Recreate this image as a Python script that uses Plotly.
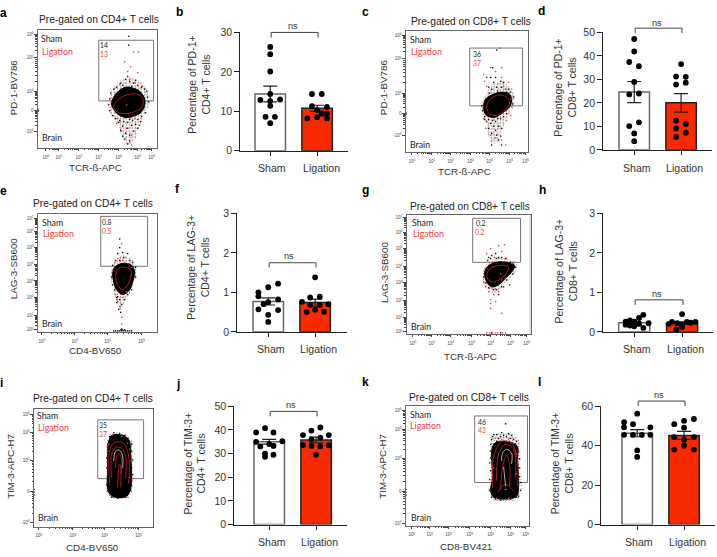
import numpy as np
import plotly.graph_objects as go

W, H = 717, 557
SANS = "Liberation Sans"
FLOW = "Lato"
RED_BAR = "#f92a00"
RED_TXT = "#ee3a48"

CATEGORIES = ["Sham", "Ligation"]

# ---------- bar panels: values, horizontal jitter, means, SEM ----------
B_SHAM = [26.3, 24.5, 20.1, 14.4, 13.0, 12.9, 12.6, 11.4, 8.6, 8.6, 7.0]
B_SHAM_J = [0, 0, 0, 0, .21, -.21, 0, 0, .1, -.1, 0]
B_LIG = [14.4, 14.4, 11.3, 11.1, 10.3, 9.4, 9.4, 8.2, 8.5, 8.2]
B_LIG_J = [-.11, .1, -.11, .21, 0, .1, .21, -.21, 0, .21]
B_MEAN = [14.4, 10.8]
B_SEM = [2.0, 0.75]

D_SHAM = [47.2, 41.9, 37.4, 35.6, 28.9, 23.6, 24.0, 11.7, 10.1, 7.0, 3.7]
D_SHAM_J = [0, 0, -.106, .1, 0, -.106, .1, .1, -.106, 0, 0]
D_LIG = [36.5, 31.2, 31.1, 27.8, 28.6, 12.4, 11.0, 9.1, 7.3, 5.5]
D_LIG_J = [0, -.106, .1, -.106, .1, -.106, .1, -.106, .1, -.106]
D_MEAN = [24.6, 20.0]
D_SEM = [4.5, 3.9]

F_SHAM = [1.22, 1.13, 1.0, .9, .82, .75, .7, .57, .55, .43, .25]
F_SHAM_J = [.21, 0, -.21, -.21, .21, 0, -.1, -.21, .21, 0, 0]
F_LIG = [1.38, .87, .89, .76, .68, .68, .7, .5, .56, .51]
F_LIG_J = [0, -.106, .1, -.28, -.106, .1, .28, -.18, 0, .19]
F_MEAN = [.77, .74]
F_SEM = [.09, .09]

H_SHAM = [.43, .35, .29, .26, .26, .22, .2, .16, .18, .1, .14]
H_SHAM_J = [.19, .1, -.09, -.18, 0, .3, .1, -.09, -.18, .19, 0]
H_LIG = [.45, .25, .22, .25, .25, .18, .23, .2, .06, .12]
H_LIG_J = [0, -.21, -.1, .1, .28, 0, .18, -.28, -.12, 0]
H_MEAN = [.23, .22]
H_SEM = [.03, .03]

J_SHAM = [40.7, 38.9, 38.9, 34.9, 35.2, 34.0, 33.0, 33.2, 30.0, 29.5, 28.6]
J_SHAM_J = [-.09, -.28, .09, -.28, .28, 0, -.19, .09, -.09, .09, -.09]
J_LIG = [41.0, 39.7, 37.8, 36.0, 36.7, 37.8, 33.2, 33.0, 33.6, 33.5, 29.5]
J_LIG_J = [.09, -.1, -.28, -.1, .09, .27, -.1, .09, -.28, .27, 0]
J_MEAN = [35.0, 35.7]
J_SEM = [1.0, 1.2]

L_SHAM = [56.2, 51.9, 50.9, 49.3, 49.3, 45.5, 45.5, 45.5, 45.5, 37.6, 34.3]
L_SHAM_J = [0, -.28, -.09, -.28, .28, -.28, -.09, .1, .28, 0, 0]
L_LIG = [53.5, 52.6, 50.9, 49.1, 44.3, 43.0, 44.3, 38.0, 40.0, 38.0]
L_LIG_J = [.21, 0, -.21, 0, -.21, 0, .21, -.21, 0, .21]
L_MEAN = [46.3, 45.2]
L_SEM = [1.8, 2.0]

# ---------- flow panels (display channels): population outlines and events ----------
A_HALO = [(71, 44), (74, 58), (82, 68), (92, 72), (102, 68), (110, 58), (112, 46), (107, 34), (102, 22), (97, 8), (90, 3), (85, 10), (80, 24), (73, 34), (71, 44)]
A_BLOB = [(74, 44), (76, 52), (81, 58), (88, 62), (96, 61), (103, 57), (107, 50), (107, 43), (104, 37), (98, 33), (90, 31), (82, 33), (77, 38), (74, 44)]
A_RING = [(76, 42), (80, 49), (89, 54), (99, 55), (105, 51), (105, 43), (97, 37), (87, 35), (79, 37), (76, 42)]
A_BLACK = [(83, 66), (88, 70), (92, 68), (96, 66), (100, 64), (104, 62), (79, 62), (85, 64), (90, 73), (94, 63), (98, 69), (107, 60), (109, 58), (110, 52), (72, 50), (71, 44), (72, 38), (75, 33), (78, 30), (82, 28), (86, 27), (90, 26), (95, 28), (100, 29), (104, 32), (108, 36), (85, 22), (90, 20), (94, 23), (98, 24), (83, 18), (88, 15), (92, 13), (96, 17), (100, 20), (87, 9), (92, 7), (90, 4), (85, 12), (91, 114), (91, 105), (0, 38), (0, 37), (0, 39), (111, 47), (76, 60), (73, 56), (81, 26), (103, 27), (92, 29), (87, 31)]
A_RED = [(87, 88), (90, 78), (93, 83), (100, 77), (101, 98), (96, 98), (92, 70), (97, 67), (105, 63), (82, 65), (80, 30), (85, 23), (89, 20), (94, 13), (94, 3), (79, 25), (97, 30), (84, 17), (102, 23), (89, 44)]

C_HALO = [(76, 46), (80, 58), (86, 68), (96, 72), (104, 66), (109, 56), (108, 46), (101, 34), (96, 20), (90, 8), (84, 14), (80, 30), (76, 46)]
C_BLOB = [(78, 46), (80, 54), (86, 58), (96, 61), (104, 59), (106, 52), (104, 46), (96, 39), (88, 35), (80, 38), (78, 46)]
C_RING = [(81, 46), (85, 54), (93, 58), (101, 56), (104, 49), (98, 41), (90, 37), (84, 39), (81, 46)]
C_BLACK = [(91, 104), (81, 76), (85, 76), (90, 76), (95, 72), (98, 71), (88, 71), (83, 66), (86, 64), (91, 66), (96, 66), (100, 64), (103, 64), (87, 86), (105, 61), (108, 56), (107, 49), (76, 47), (77, 42), (79, 36), (81, 31), (85, 29), (90, 31), (95, 34), (98, 36), (101, 39), (83, 24), (88, 26), (93, 26), (96, 24), (86, 19), (91, 17), (95, 16), (90, 22), (93, 12), (86, 7), (96, 7), (0, 38), (0, 39), (0, 40), (84, 60), (92, 62), (101, 61), (83, 33), (87, 32), (92, 34), (79, 33)]
C_RED = [(94, 106), (85, 86), (90, 82), (96, 86), (78, 79), (79, 72), (96, 76), (81, 67), (98, 67), (103, 71), (106, 64), (105, 54), (106, 46), (78, 34), (80, 24), (85, 17), (90, 14), (96, 12), (86, 11), (100, 7), (101, 32), (105, 37)]

E_HALO = [(73, 58), (76, 70), (84, 78), (92, 76), (98, 68), (98, 56), (94, 44), (88, 34), (83, 22), (79, 30), (75, 44), (73, 58)]
E_BLOB = [(75, 60), (77, 66), (85, 70), (94, 68), (97, 61), (95, 51), (92, 43), (85, 38), (79, 43), (76, 51), (75, 60)]
E_RING = [(78, 58), (81, 65), (87, 66), (93, 63), (93, 55), (90, 48), (85, 43), (80, 48), (78, 58)]
E_BLACK = [(82, 95), (82, 86), (85, 81), (80, 80), (90, 80), (86, 76), (78, 73), (82, 73), (92, 73), (95, 71), (75, 68), (98, 66), (98, 56), (74, 56), (75, 48), (77, 43), (94, 43), (80, 36), (90, 38), (82, 33), (87, 33), (79, 30), (84, 28), (81, 23), (83, 20), (79, 35), (76, 1), (78, 1), (80, 1), (82, 1), (84, 1), (85, 2), (86, 1), (88, 1), (90, 1), (92, 1), (94, 1), (83, 2), (87, 2), (84, 3)]
E_RED = [(84, 90), (77, 71), (85, 73), (80, 75), (94, 66), (75, 63), (78, 38), (92, 40), (80, 31), (82, 26), (85, 35), (84, 15), (84, 8), (79, 33), (89, 41)]

G_HALO = [(76, 60), (79, 70), (88, 77), (100, 77), (110, 72), (107, 60), (98, 52), (92, 44), (84, 42), (78, 50), (76, 60)]
G_BLOB = [(78, 62), (80, 68), (89, 73), (100, 73), (108, 70), (105, 63), (99, 57), (92, 50), (85, 48), (80, 53), (78, 62)]
G_RING = [(80, 60), (84, 67), (94, 70), (102, 68), (100, 62), (92, 55), (84, 53), (80, 60)]
G_BLACK = [(82, 78), (85, 80), (89, 82), (92, 78), (95, 78), (99, 77), (90, 77), (84, 77), (104, 73), (109, 68), (106, 61), (100, 55), (95, 48), (90, 45), (77, 58), (79, 52), (82, 47), (87, 45), (92, 40), (97, 48), (103, 50), (81, 75), (85, 1), (94, 1)]
G_RED = [(98, 91), (92, 90), (84, 87), (95, 84), (80, 82), (88, 78), (100, 77), (105, 72), (77, 53), (79, 48), (82, 43), (87, 40), (85, 47), (84, 35), (84, 31), (84, 26), (89, 33), (95, 21), (95, 55), (92, 43), (89, 46), (80, 1), (83, 1), (86, 1), (89, 1), (91, 1), (96, 1), (99, 1), (94, 61)]

I_HALO = [(73, 85), (77, 95), (88, 96), (97, 90), (99, 76), (99, 40), (95, 29), (80, 28), (73, 35), (73, 60), (73, 85)]
I_BLOB = [(75, 87), (78, 93), (86, 94), (95, 89), (97, 74), (97, 39), (93, 31), (81, 30), (75, 35), (74, 60), (75, 87)]
I_ARCH_R1 = [(78, 50), (78, 74), (82, 81), (88, 80), (92, 72), (92, 49)]
I_ARCH_W1 = [(80, 67), (82, 77), (86, 78), (89, 72), (89, 60)]
I_ARCH_R2 = [(82, 60), (83, 72), (86, 74), (88, 69), (87, 54)]
I_ARCH_R3 = [(76, 42), (76, 78), (81, 86), (90, 85), (95, 72), (95, 44)]
I_ARCH_R4 = [(84, 40), (85, 60), (86, 64), (87, 60), (87, 40)]
I_BLACK = [(76, 92), (81, 94), (86, 95), (89, 92), (94, 90), (98, 84), (98, 77), (74, 84), (73, 70), (74, 50), (98, 60), (98, 47), (97, 37), (74, 37), (78, 30), (84, 29), (91, 30), (94, 34), (0, 32), (0, 35), (0, 38), (73, 60), (99, 68), (99, 53), (73, 43), (98, 42), (80, 96), (91, 93)]
I_RED = [(94, 85), (96, 79), (75, 84), (79, 94), (88, 92), (97, 67), (74, 77), (96, 50), (76, 32), (93, 30)]

K_HALO = [(85, 78), (87, 92), (100, 95), (113, 88), (115, 60), (116, 38), (112, 27), (100, 25), (86, 27), (83, 36), (85, 50), (85, 78)]
K_BLOB = [(86, 76), (89, 84), (100, 86), (111, 82), (112, 66), (113, 39), (111, 30), (100, 27), (88, 29), (85, 36), (87, 49), (86, 76)]
K_ARCH_R1 = [(91, 46), (93, 73), (100, 83), (108, 78), (110, 49)]
K_ARCH_W1 = [(96, 66), (97, 74), (101, 78), (106, 74), (106, 63)]
K_ARCH_R2 = [(92, 35), (100, 42), (108, 35)]
K_ARCH_R3 = [(98, 60), (100, 40)]
K_ARCH_R4 = [(87, 38), (88, 70), (96, 86), (106, 84), (112, 64), (112, 40)]
K_ARCH_R5 = [(95, 36), (97, 60), (101, 72), (104, 62), (104, 40)]
K_SPOT = [(99, 37), (101, 37)]
K_BLACK = [(100, 104), (88, 93), (91, 93), (95, 91), (98, 92), (101, 91), (105, 89), (108, 88), (111, 86), (86, 88), (85, 83), (88, 83), (91, 86), (110, 83), (113, 76), (114, 59), (115, 44), (115, 36), (111, 29), (105, 27), (95, 26), (86, 29), (84, 36), (85, 56), (85, 69), (85, 76), (0, 31), (0, 34), (0, 37), (93, 89), (103, 94), (96, 95), (87, 91), (106, 92), (84, 64), (114, 68), (84, 47), (114, 50), (113, 30), (90, 27)]
K_RED = [(96, 88), (103, 88), (90, 89), (108, 84), (86, 79), (111, 73), (111, 53), (91, 28), (103, 28), (86, 66), (88, 59)]

# ---------- labels ----------
TITLE_CD4 = "Pre-gated on CD4+ T cells"
TITLE_CD8 = "Pre-gated on CD8+ T cells"
LOG_0_6 = ["10<sup>%d</sup>" % k for k in range(0, 7)]
LOG_2_5 = ["10<sup>%d</sup>" % k for k in range(2, 6)]
BIEX_Y = ["10<sup>6</sup>", "10<sup>5</sup>", "10<sup>4</sup>", "0", "-10<sup>4</sup>"]
LOG_7_0 = ["10<sup>%d</sup>" % k for k in range(7, -1, -1)]

FLOW_PANELS = [
    dict(frame=(38, 157, 25, 145), gate=(61, 116, 48, 110), halo=A_HALO, blob=A_BLOB, lines=[("r", A_RING)], black=A_BLACK, red=A_RED,
         xt=[8, 21, 41, 61, 81, 100, 114], xl=LOG_0_6, yt=[116, 92, 58, 38, 17], yl=BIEX_Y,
         title=(TITLE_CD4, 99, 14), xlab=("TCR-ß-APC", 96, 165), ylab=("PD-1-BV786", 13, 83),
         sham=(52, 33), lig=(58, 46), brain=(52, 134), n1=("14", 104, 40), n2=("13", 104, 49)),
    dict(frame=(407, 529, 26, 149), gate=(64, 117, 47, 106), halo=C_HALO, blob=C_BLOB, lines=[("r", C_RING)], black=C_BLACK, red=C_RED,
         xt=[6, 26, 45, 65, 84, 104, 120], xl=LOG_0_6, yt=[119, 95, 60, 39, 17], yl=BIEX_Y,
         title=(TITLE_CD8, 472, 16), xlab=("TCR-ß-APC", 466, 169), ylab=("PD-1-BV786", 384, 83),
         sham=(422, 34), lig=(428, 46), brain=(421, 142), n1=("36", 478, 49), n2=("37", 478, 58)),
    dict(frame=(38, 157, 213, 333), gate=(63, 110, 67, 118), halo=E_HALO, blob=E_BLOB, lines=[("r", E_RING)], black=E_BLACK, red=E_RED,
         xt=[4, 37, 70, 104], xl=LOG_2_5, yt=[116, 103, 86, 69, 52, 35, 17, 2], yl=LOG_7_0,
         title=(TITLE_CD4, 93, 202), xlab=("CD4-BV650", 96, 352), ylab=("LAG-3-SB600", 13, 268),
         sham=(53, 221), lig=(59, 233), brain=(52, 325), n1=("0.8", 107, 221), n2=("0.5", 107, 230)),
    dict(frame=(408, 532, 214, 335), gate=(66, 114, 73, 118), halo=G_HALO, blob=G_BLOB, lines=[("r", G_RING)], black=G_BLACK, red=G_RED,
         xt=[6, 25, 44, 65, 84, 104, 120], xl=LOG_0_6, yt=[119, 104, 87, 69, 52, 34, 17, 2], yl=LOG_7_0,
         title=(TITLE_CD8, 471, 205), xlab=("TCR-ß-APC", 472, 358), ylab=("LAG-3-SB600", 385, 272),
         sham=(424, 221), lig=(430, 233), brain=(422, 328), n1=("0.2", 482, 222), n2=("0.2", 481, 231)),
    dict(frame=(34, 153, 412, 532), gate=(64, 110, 49, 109), halo=I_HALO, blob=I_BLOB,
         lines=[("r", I_ARCH_R3), ("r", I_ARCH_R1), ("w", I_ARCH_W1), ("r", I_ARCH_R2), ("r", I_ARCH_R4)], black=I_BLACK, red=I_RED,
         xt=[5, 39, 71, 105], xl=LOG_2_5, yt=[115, 96, 68, 36, 4], yl=BIEX_Y,
         title=(TITLE_CD4, 93, 401), xlab=("CD4-BV650", 93, 553), ylab=("TIM-3-APC-H7", 11, 470),
         sham=(48, 419), lig=(54, 431), brain=(48, 523), n1=("35", 103, 428), n2=("37", 103, 437)),
    dict(frame=(407, 530, 409, 531), gate=(69, 122, 44, 112), halo=K_HALO, blob=K_BLOB,
         lines=[("r", K_ARCH_R4), ("r", K_ARCH_R1), ("w", K_ARCH_W1), ("r", K_ARCH_R5), ("r", K_ARCH_R2), ("w", K_ARCH_R3), ("w", K_SPOT)],
         black=K_BLACK, red=K_RED,
         xt=[6, 24, 43, 64, 85, 105, 120], xl=LOG_0_6, yt=[118, 98, 69, 35, 2], yl=BIEX_Y,
         title=(TITLE_CD8, 470, 400), xlab=("CD8-BV421", 467, 552), ylab=("TIM-3-APC-H7", 384, 470),
         sham=(422, 417), lig=(427, 429), brain=(422, 523), n1=("46", 483, 425), n2=("43", 483, 433)),
]

BAR_PANELS = [
    dict(box=(241, 349, 27, 148), ticks=(271, 318), ymax=30, yt=[0, 10, 20, 30], sham=B_SHAM, sj=B_SHAM_J, lig=B_LIG, lj=B_LIG_J, mean=B_MEAN, sem=B_SEM,
         br=(28.7, 30), ns=(294, 20), lab=("Percentage of PD-1+<br>CD4+ T cells", 200, 80), xl=(273, 322, 166)),
    dict(box=(605, 714, 27, 147), ticks=(636, 683), ymax=50, yt=[0, 10, 20, 30, 40, 50], sham=D_SHAM, sj=D_SHAM_J, lig=D_LIG, lj=D_LIG_J, mean=D_MEAN, sem=D_SEM,
         br=(49.7, 51.8), ns=(659, 17), lab=("Percentage of PD-1+<br>CD8+ T cells", 567, 83), xl=(639, 686, 166)),
    dict(box=(238, 348, 212, 333), ticks=(269, 316), ymax=3, yt=[0, 1, 2, 3], sham=F_SHAM, sj=F_SHAM_J, lig=F_LIG, lj=F_LIG_J, mean=F_MEAN, sem=F_SEM,
         br=(1.63, 1.75), ns=(290, 256), lab=("Percentage of LAG-3+<br>CD4+ T cells", 199, 267), xl=(272, 319, 351)),
    dict(box=(605, 715, 212, 333), ticks=(636, 684), ymax=3, yt=[0, 1, 2, 3], sham=H_SHAM, sj=H_SHAM_J, lig=H_LIG, lj=H_LIG_J, mean=H_MEAN, sem=H_SEM,
         br=(.68, .81), ns=(659, 294), lab=("Percentage of LAG-3+<br>CD8+ T cells", 568, 271), xl=(639, 687, 351)),
    dict(box=(235, 348, 409, 530), ticks=(270, 317), ymax=50, yt=[0, 10, 20, 30, 40, 50], sham=J_SHAM, sj=J_SHAM_J, lig=J_LIG, lj=J_LIG_J, mean=J_MEAN, sem=J_SEM,
         br=(45.7, 47.8), ns=(292, 408), lab=("Percentage of TIM-3+<br>CD4+ T cells", 195, 467), xl=(273, 320, 548)),
    dict(box=(603, 717, 409, 530), ticks=(639, 686), ymax=60, yt=[0, 20, 40, 60], sham=L_SHAM, sj=L_SHAM_J, lig=L_LIG, lj=L_LIG_J, mean=L_MEAN, sem=L_SEM,
         br=(60, 62.6), ns=(661, 398), lab=("Percentage of TIM-3+<br>CD8+ T cells", 564, 467), xl=(641, 689, 548)),
]

LETTERS = [("a", 4, 7), ("b", 180, 6), ("c", 367, 6), ("d", 543, 5), ("e", 4, 189), ("f", 178, 187),
           ("g", 367, 188), ("h", 544, 188), ("i", 2, 385), ("j", 178, 386), ("k", 367, 384), ("l", 541, 384)]

fig = go.Figure()
annos, shapes, layout_axes = [], [], {}


def text(s, x, y, size, color="#222222", family=SANS, **kw):
    annos.append(dict(text=s, x=x / W, y=1 - y / H, xref="paper", yref="paper", showarrow=False,
                      xanchor=kw.pop("xanchor", "center"), yanchor="middle",
                      font=dict(size=size, color=color, family=family), **kw))


def xs(pts):
    return [p[0] for p in pts]


def ys(pts):
    return [p[1] for p in pts]


def minors(major):
    m = sorted(major)
    out = []
    for a, b in zip(m[:-1], m[1:]):
        out += list(a + (b - a) * np.log10(np.arange(2, 10)))
    return out


idx = 0
for p in FLOW_PANELS:
    idx += 1
    xa, ya = f"x{idx}", f"y{idx}"
    L, R, T, B = p["frame"]
    common = dict(showline=True, mirror=True, linecolor="#666666", linewidth=1, showgrid=False, zeroline=False,
                  ticks="outside", ticklen=2.5, tickwidth=0.7, tickcolor="#444444",
                  tickfont=dict(size=4.5, color="#444444", family=SANS))
    layout_axes[f"xaxis{idx}"] = dict(common, domain=[L / W, R / W], range=[0, R - L], anchor=ya,
                                      tickmode="array", tickvals=p["xt"], ticktext=p["xl"], ticklabelstandoff=2,
                                      minor=dict(tickmode="array", tickvals=minors(p["xt"]), ticks="outside", ticklen=1.4,
                                                 tickwidth=0.5, tickcolor="#444444"))
    layout_axes[f"yaxis{idx}"] = dict(common, domain=[1 - B / H, 1 - T / H], range=[0, B - T], anchor=xa,
                                      tickmode="array", tickvals=p["yt"], ticktext=p["yl"],
                                      minor=dict(tickmode="array", tickvals=minors(p["yt"]), ticks="outside", ticklen=1.4,
                                                 tickwidth=0.5, tickcolor="#444444"))
    g = p["gate"]
    shapes.append(dict(type="rect", xref=xa, yref=ya, x0=g[0], x1=g[1], y0=g[2], y1=g[3],
                       line=dict(color="#777777", width=1), layer="below"))
    # stippled outer cloud of events, black then red
    fig.add_trace(go.Scatter(x=xs(p["halo"]), y=ys(p["halo"]), xaxis=xa, yaxis=ya, mode="lines", fill="toself",
                             fillcolor="rgba(0,0,0,0)", line=dict(width=0, shape="spline"),
                             fillpattern=dict(shape=".", size=3, solidity=0.22, fgcolor="#000000", bgcolor="rgba(0,0,0,0)"),
                             hoverinfo="skip"))
    fig.add_trace(go.Scatter(x=xs(p["halo"]), y=ys(p["halo"]), xaxis=xa, yaxis=ya, mode="lines", fill="toself",
                             fillcolor="rgba(0,0,0,0)", line=dict(width=0, shape="spline"),
                             fillpattern=dict(shape=".", size=5, solidity=0.1, fgcolor="#f03a48", bgcolor="rgba(0,0,0,0)"),
                             hoverinfo="skip"))
    fig.add_trace(go.Scatter(x=xs(p["blob"]), y=ys(p["blob"]), xaxis=xa, yaxis=ya, mode="lines", fill="toself",
                             fillcolor="#000000", line=dict(color="#000000", width=1, shape="spline"),
                             hoverinfo="skip"))
    for c, pts in p["lines"]:
        fig.add_trace(go.Scatter(x=xs(pts), y=ys(pts), xaxis=xa, yaxis=ya, mode="lines",
                                 line=dict(color="#d8202a" if c == "r" else "#dddddd", width=0.8, shape="spline"),
                                 hoverinfo="skip"))
    fig.add_trace(go.Scatter(x=xs(p["black"]), y=ys(p["black"]), xaxis=xa, yaxis=ya, mode="markers", cliponaxis=False,
                             marker=dict(color="#111111", size=1.4, symbol="square"), hoverinfo="skip"))
    fig.add_trace(go.Scatter(x=xs(p["red"]), y=ys(p["red"]), xaxis=xa, yaxis=ya, mode="markers", cliponaxis=False,
                             marker=dict(color="#f03a48", size=1.4, symbol="square"), hoverinfo="skip"))
    text(p["title"][0], p["title"][1], p["title"][2], 10.2)
    text(p["xlab"][0], p["xlab"][1], p["xlab"][2], 9.8, color="#333333")
    text(p["ylab"][0], p["ylab"][1], p["ylab"][2], 9.8, color="#333333", textangle=-90)
    text("Sham", p["sham"][0], p["sham"][1], 8.8, family=FLOW)
    text("Ligation", p["lig"][0], p["lig"][1], 8.8, color=RED_TXT, family=FLOW)
    text("Brain", p["brain"][0], p["brain"][1], 8.8, family=FLOW)
    text(p["n1"][0], p["n1"][1], p["n1"][2], 6.8, family=FLOW)
    text(p["n2"][0], p["n2"][1], p["n2"][2], 6.8, color=RED_TXT, family=FLOW)

# thick pale right edge of panel g
shapes.append(dict(type="line", xref="x4", yref="y4", x0=124, x1=124, y0=0, y1=121, line=dict(color="#bbbbbb", width=2)))

for p in BAR_PANELS:
    idx += 1
    xa, ya = f"x{idx}", f"y{idx}"
    L, R, T, B = p["box"]
    t0, t1 = p["ticks"]
    unit = t1 - t0
    xr = [(L - t0) / unit, (R - t0) / unit]
    layout_axes[f"xaxis{idx}"] = dict(domain=[L / W, R / W], range=xr, anchor=ya,
                                      showline=True, linecolor="#222222", linewidth=1.3, showgrid=False, zeroline=False,
                                      ticks="outside", ticklen=4, tickwidth=1.1, tickcolor="#222222",
                                      tickmode="array", tickvals=[0, 1], showticklabels=False)
    layout_axes[f"yaxis{idx}"] = dict(domain=[1 - B / H, 1 - T / H], range=[0, p["ymax"]], anchor=xa,
                                      showline=True, linecolor="#222222", linewidth=1.3, showgrid=False, zeroline=False,
                                      ticks="outside", ticklen=5, tickwidth=1.1, tickcolor="#222222",
                                      tickmode="array", tickvals=p["yt"],
                                      tickfont=dict(size=10.5, color="#333333", family=SANS))
    # hidden twin axes, same scale but 20 px taller, so a bracket may sit above the axis top
    extra = 20
    layout_axes[f"xaxis{idx + 100}"] = dict(domain=[L / W, R / W], range=xr, anchor=f"y{idx + 100}", visible=False)
    layout_axes[f"yaxis{idx + 100}"] = dict(domain=[1 - B / H, 1 - (T - extra) / H],
                                            range=[0, p["ymax"] * (B - T + extra) / (B - T)],
                                            anchor=f"x{idx + 100}", visible=False)
    fig.add_trace(go.Bar(x=[0, 1], y=p["mean"], width=0.65, xaxis=xa, yaxis=ya,
                         marker=dict(color=["#ffffff", RED_BAR], line=dict(color=["#666666", "#222222"], width=1.5)),
                         hoverinfo="skip"))
    fig.add_trace(go.Scatter(x=[0, 1], y=p["mean"], xaxis=xa, yaxis=ya, mode="markers", marker=dict(size=1, opacity=0),
                             error_y=dict(type="data", array=p["sem"], color="#222222", thickness=1.2, width=7),
                             cliponaxis=False, hoverinfo="skip"))
    fig.add_trace(go.Scatter(x=p["sj"], y=p["sham"], xaxis=xa, yaxis=ya, mode="markers", cliponaxis=False,
                             marker=dict(color="#000000", size=5.8), hoverinfo="skip"))
    fig.add_trace(go.Scatter(x=[1 + j for j in p["lj"]], y=p["lig"], xaxis=xa, yaxis=ya, mode="markers", cliponaxis=False,
                             marker=dict(color="#000000", size=5.8), hoverinfo="skip"))
    lo, hi = p["br"]
    fig.add_trace(go.Scatter(x=[0.02, 0.02, 1.02, 1.02], y=[lo, hi, hi, lo], xaxis=f"x{idx + 100}", yaxis=f"y{idx + 100}",
                             mode="lines", cliponaxis=False, line=dict(color="#444444", width=1), hoverinfo="skip"))
    text("ns", p["ns"][0], p["ns"][1], 9.2, color="#333333")
    text(p["lab"][0], p["lab"][1], p["lab"][2], 10.5, color="#333333", textangle=-90)
    text(CATEGORIES[0], p["xl"][0], p["xl"][2], 10.6, color="#333333")
    text(CATEGORIES[1], p["xl"][1], p["xl"][2], 10.6, color="#333333")

for s, x, y in LETTERS:
    text("<b>%s</b>" % s, x, y, 12, color="#000000")

fig.update_layout(width=W, height=H, margin=dict(l=0, r=0, t=0, b=0, pad=0), paper_bgcolor="white",
                  plot_bgcolor="rgba(0,0,0,0)", showlegend=False, annotations=annos, shapes=shapes, barmode="overlay",
                  **layout_axes)
fig.write_html("out.html", post_script="document.body.style.margin='0';", config=dict(displayModeBar=False))
